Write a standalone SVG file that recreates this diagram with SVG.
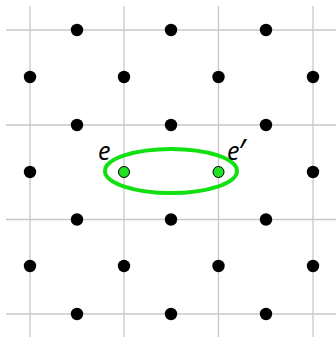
<svg xmlns="http://www.w3.org/2000/svg" width="336" height="337" viewBox="0 0 336 337">
<style>
.g{stroke:#c8c8c8;stroke-width:1.3;fill:none}
.d{fill:#000}
.h{fill:#22e022;stroke:#000;stroke-width:1}
.lbl{font-family:"Open Sans","Noto Sans",sans-serif;font-style:italic;font-size:25px;fill:#000}
.pr{font-size:34px;font-style:normal}
</style>
<rect width="336" height="337" fill="#fff"/>
<g id="grid" class="g">
<line x1="30" y1="6" x2="30" y2="337"/>
<line x1="124" y1="6" x2="124" y2="337"/>
<line x1="218.5" y1="6" x2="218.5" y2="337"/>
<line x1="313" y1="6" x2="313" y2="337"/>
<line x1="6" y1="30" x2="336" y2="30"/>
<line x1="6" y1="125" x2="336" y2="125"/>
<line x1="6" y1="219.5" x2="336" y2="219.5"/>
<line x1="6" y1="314" x2="336" y2="314"/>
</g>
<g id="connectors">
<ellipse cx="171" cy="171" rx="66" ry="22" fill="none" stroke="#11e011" stroke-width="4"/>
</g>
<g id="dots" class="d">
<circle cx="77" cy="30" r="6.2"/><circle cx="171" cy="30" r="6.2"/><circle cx="266" cy="30" r="6.2"/>
<circle cx="30" cy="77" r="6.2"/><circle cx="124" cy="77" r="6.2"/><circle cx="218.5" cy="77" r="6.2"/><circle cx="313" cy="77" r="6.2"/>
<circle cx="77" cy="125" r="6.2"/><circle cx="171" cy="125" r="6.2"/><circle cx="266" cy="125" r="6.2"/>
<circle cx="30" cy="172" r="6.2"/><circle cx="313" cy="172" r="6.2"/>
<circle cx="77" cy="219.5" r="6.2"/><circle cx="171" cy="219.5" r="6.2"/><circle cx="266" cy="219.5" r="6.2"/>
<circle cx="30" cy="266" r="6.2"/><circle cx="124" cy="266" r="6.2"/><circle cx="218.5" cy="266" r="6.2"/><circle cx="313" cy="266" r="6.2"/>
<circle cx="77" cy="314" r="6.2"/><circle cx="171" cy="314" r="6.2"/><circle cx="266" cy="314" r="6.2"/>
</g>
<g id="node-e">
<circle class="h" cx="124" cy="172" r="5.5"/>
<text class="lbl" x="98" y="160">e</text>
</g>
<g id="node-e-prime">
<circle class="h" cx="218.5" cy="172" r="5.5"/>
<text class="lbl" x="227" y="160">e<tspan class="pr" dx="-1" dy="4">′</tspan></text>
</g>
</svg>
